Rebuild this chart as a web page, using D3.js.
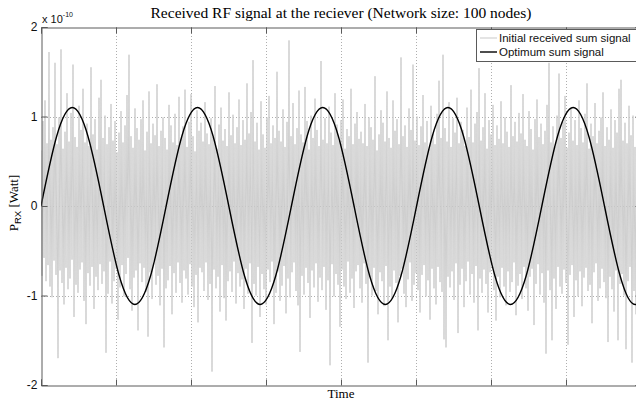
<!DOCTYPE html>
<html>
<head>
<meta charset="utf-8">
<script src="https://cdn.jsdelivr.net/npm/d3@7"></script>
<style>
  html, body { margin: 0; padding: 0; background: #fff; }
  svg { display: block; }
</style>
</head>
<body>
<svg id="chart" width="636" height="403"></svg>
<script>
// ---- data -------------------------------------------------------------
const chartTitle = "Received RF signal at the reciever (Network size: 100 nodes)";
const xLabel = "Time";
const xTicks = [0, 1, 2, 3, 4, 5, 6, 7, 8];
const yTicks = [-2, -1, 0, 1, 2];
const yTickLabels = ["-2", "-1", "0", "1", "2"];
const legendLabels = ["Initial received sum signal", "Optimum sum signal"];

// Initial received sum signal, 75 samples per time unit, in units of 10^-12 W
const rxSignal = [
  62,-78,95,-58,118,-84,70,-66,172,-90,74,-102,88,-61,160,-77,69,-170,99,-72,
  175,-86,64,-110,83,-69,126,-93,72,-81,104,-60,158,-124,77,-88,66,-97,112,-71,
  85,-63,131,-106,71,-132,92,-75,67,-89,155,-68,80,-115,97,-79,63,-94,121,-65,
  141,-87,76,-73,101,-164,69,-98,88,-62,114,-109,73,-84,95,-70,60,-127,82,-91,
  106,-66,71,-101,90,-76,124,-58,169,-93,78,-117,65,-80,109,-72,87,-139,74,-64,
  97,-85,118,-69,62,-96,83,-146,128,-74,70,-104,92,-61,79,-88,136,-78,67,-111,
  84,-70,99,-158,76,-92,63,-83,113,-67,90,-121,71,-75,103,-97,68,-63,122,-86,
  75,-108,89,-72,130,-81,66,-99,94,-65,125,-90,78,-113,61,-77,107,-130,84,-69,
  93,-74,72,-95,116,-63,81,-105,69,-87,98,-185,77,-71,134,-92,64,-79,91,-118,
  110,-66,73,-103,86,-128,67,-84,127,-73,79,-96,102,-62,70,-109,88,-75,119,-90,
  68,-82,96,-115,74,-70,137,-98,81,-64,105,-153,163,-87,72,-100,93,-68,63,-124,
  117,-76,80,-93,65,-110,99,-71,123,-85,70,-62,90,-132,76,-97,150,-73,84,-106,
  72,-89,108,-67,66,-120,94,-81,185,-102,78,-74,115,-63,69,-95,87,-111,129,-163,
  80,-78,71,-99,133,-69,95,-86,63,-125,101,-72,76,-91,120,-64,85,-107,67,-80,
  162,-94,74,-68,98,-116,70,-83,111,-178,82,-65,68,-101,126,-76,91,-88,73,-135,
  96,-71,119,-90,64,-104,86,-62,78,-97,131,-81,69,-114,92,-73,105,-66,75,-92,
  83,-108,70,-64,114,-87,67,-175,99,-79,88,-100,74,-69,145,-95,62,-121,80,-74,
  107,-84,93,-112,72,-67,128,-150,76,-90,65,-103,118,-72,84,-86,97,-130,69,-78,
  166,-70,78,-98,90,-113,66,-82,109,-63,85,-106,158,-88,73,-75,100,-94,68,-119,
  89,-77,124,-66,71,-101,95,-83,64,-127,112,-70,80,-92,69,-110,103,-68,140,-85,
  76,-96,169,-149,87,-158,72,-79,116,-91,66,-73,98,-105,82,-64,121,-142,70,-88,
  94,-70,85,-113,67,-84,110,-62,77,-99,130,-76,71,-108,92,-67,105,-139,154,-81,
  73,-97,88,-71,126,-87,64,-119,96,-74,80,-65,113,-94,68,-128,90,-79,75,-102,
  117,-69,70,-90,99,-111,83,-73,66,-96,135,-85,78,-63,94,-122,72,-89,104,-76,
  81,-104,125,-68,74,-92,67,-117,106,-79,86,-70,63,-133,97,-87,119,-65,77,-99,
  92,-75,69,-108,84,-165,113,-72,160,-94,71,-150,89,-81,66,-115,101,-68,148,-90,
  76,-98,94,-71,123,-86,65,-155,82,-77,110,-66,73,-124,96,-83,68,-101,118,-73,
  87,-112,71,-80,103,-69,137,-95,64,-88,92,-131,78,-74,115,-64,70,-106,84,-92,
  99,-70,127,-85,67,-103,88,-152,74,-79,108,-93,65,-118,96,-72,82,-150,131,-87,
  141,-76,73,-100,93,-160,70,-84,112,-68,79,-175,101,-95,66,-121,88,-78,124,-107
];
const rxSamplesPerUnit = 75;

// Optimum sum signal, sampled every eighth of its period (units of 10^-10 W)
const optTime = [
  0, 0.209, 0.417, 0.626, 0.835, 1.043, 1.252, 1.461, 1.669, 1.878,
  2.087, 2.295, 2.504, 2.713, 2.921, 3.130, 3.339, 3.548, 3.756, 3.965,
  4.174, 4.382, 4.591, 4.800, 5.008, 5.217, 5.426, 5.634, 5.843, 6.052,
  6.260, 6.469, 6.678, 6.887, 7.095, 7.304, 7.513, 7.721, 7.930, 8.139
];
const optValue = [
  0, 0.78, 1.1, 0.78, 0, -0.78, -1.1, -0.78, 0, 0.78,
  1.1, 0.78, 0, -0.78, -1.1, -0.78, 0, 0.78, 1.1, 0.78,
  0, -0.78, -1.1, -0.78, 0, 0.78, 1.1, 0.78, 0, -0.78,
  -1.1, -0.78, 0, 0.78, 1.1, 0.78, 0, -0.78, -1.1, -0.78
];

// ---- layout -----------------------------------------------------------
const plot = { left: 41, top: 27, right: 641, bottom: 385 };
const svg = d3.select("#chart");
const serif = "'Liberation Serif', 'Times New Roman', serif";
const sans = "'Liberation Sans', Arial, Helvetica, sans-serif";

const x = d3.scaleLinear().domain([0, 8]).range([plot.left, plot.right]);
const y = d3.scaleLinear().domain([-2, 2]).range([plot.bottom, plot.top]);

svg.append("defs").append("clipPath").attr("id", "plot-clip")
  .append("rect")
  .attr("x", plot.left).attr("y", plot.top)
  .attr("width", plot.right - plot.left).attr("height", plot.bottom - plot.top);

// grid (dotted, under the data)
const grid = svg.append("g").attr("stroke", "#9a9a9a").attr("stroke-width", 0.8)
  .attr("stroke-dasharray", "1,2");
grid.selectAll("line.gx").data(xTicks.slice(1, -1)).join("line")
  .attr("x1", d => Math.round(x(d)) + 0.5).attr("x2", d => Math.round(x(d)) + 0.5)
  .attr("y1", plot.top).attr("y2", plot.bottom);
grid.selectAll("line.gy").data(yTicks.slice(1, -1)).join("line")
  .attr("y1", d => Math.round(y(d)) + 0.5).attr("y2", d => Math.round(y(d)) + 0.5)
  .attr("x1", plot.left).attr("x2", plot.right);

// data lines
const data = svg.append("g").attr("clip-path", "url(#plot-clip)");

const rxLine = d3.line()
  .x((d, i) => x(i / rxSamplesPerUnit))
  .y(d => y(d / 100));
data.append("path")
  .attr("d", rxLine(rxSignal))
  .attr("fill", "none")
  .attr("stroke", "#c9c9c9")
  .attr("stroke-width", 0.9);

const optLine = d3.line()
  .x((d, i) => x(optTime[i]))
  .y(d => y(d))
  .curve(d3.curveNatural);
data.append("path")
  .attr("d", optLine(optValue))
  .attr("fill", "none")
  .attr("stroke", "#000")
  .attr("stroke-width", 1.4);

// axes box with inward ticks
const axisColor = "#5a5a5a";
const tickLen = 6;
const bottomAxis = svg.append("g")
  .attr("transform", `translate(0,${plot.bottom + 0.5})`)
  .call(d3.axisBottom(x).tickValues(xTicks).tickSize(-tickLen).tickFormat(""));
const topAxis = svg.append("g")
  .attr("transform", `translate(0,${plot.top + 0.5})`)
  .call(d3.axisTop(x).tickValues(xTicks).tickSize(-tickLen).tickFormat(""));
const leftAxis = svg.append("g")
  .attr("transform", `translate(${plot.left + 0.5},0)`)
  .call(d3.axisLeft(y).tickValues(yTicks).tickSize(-tickLen).tickPadding(4)
    .tickFormat((d, i) => yTickLabels[i]));
const rightAxis = svg.append("g")
  .attr("transform", `translate(${plot.right + 0.5},0)`)
  .call(d3.axisRight(y).tickValues(yTicks).tickSize(-tickLen).tickFormat(""));

[bottomAxis, topAxis, leftAxis, rightAxis].forEach(g => {
  g.select(".domain").attr("stroke", axisColor).attr("stroke-width", 1);
  g.selectAll(".tick line").attr("stroke", axisColor).attr("stroke-width", 1);
});
leftAxis.selectAll(".tick text")
  .attr("font-family", sans).attr("font-size", 12).attr("fill", "#111");

// exponent label
const expo = svg.append("text")
  .attr("x", plot.left + 1).attr("y", 23)
  .attr("font-family", sans).attr("font-size", 11).attr("fill", "#111")
  .text("x 10");
expo.append("tspan").attr("dy", -6).attr("font-size", 7).text("-10");

// title
svg.append("text")
  .attr("x", (plot.left + plot.right) / 2).attr("y", 18)
  .attr("text-anchor", "middle")
  .attr("font-family", serif).attr("font-size", 15.5).attr("fill", "#000")
  .text(chartTitle);

// x label
svg.append("text")
  .attr("x", (plot.left + plot.right) / 2).attr("y", 398)
  .attr("text-anchor", "middle")
  .attr("font-family", serif).attr("font-size", 13).attr("fill", "#000")
  .text(xLabel);

// y label: P_RX [Watt]
const yl = svg.append("text")
  .attr("transform", `translate(18,${(plot.top + plot.bottom) / 2 - 3}) rotate(-90)`)
  .attr("text-anchor", "middle")
  .attr("font-family", serif).attr("font-size", 13).attr("fill", "#000");
yl.append("tspan").text("P");
yl.append("tspan").attr("dy", 3).attr("font-size", 9.5).attr("font-family", sans).text("RX");
yl.append("tspan").attr("dy", -3).text(" [Watt]");

// legend
const lg = svg.append("g");
lg.append("rect")
  .attr("x", 476.5).attr("y", 29.5).attr("width", 163).attr("height", 32)
  .attr("fill", "#fff").attr("stroke", axisColor).attr("stroke-width", 1);
const legendStyles = [
  { stroke: "#c9c9c9", width: 1 },
  { stroke: "#000", width: 1.4 }
];
legendLabels.forEach((label, i) => {
  const cy = 38 + i * 14;
  lg.append("line")
    .attr("x1", 480).attr("x2", 497).attr("y1", cy).attr("y2", cy)
    .attr("stroke", legendStyles[i].stroke).attr("stroke-width", legendStyles[i].width);
  lg.append("text")
    .attr("x", 499).attr("y", cy + 4.3)
    .attr("font-family", sans).attr("font-size", 11.5).attr("fill", "#111")
    .text(label);
});
</script>
</body>
</html>
